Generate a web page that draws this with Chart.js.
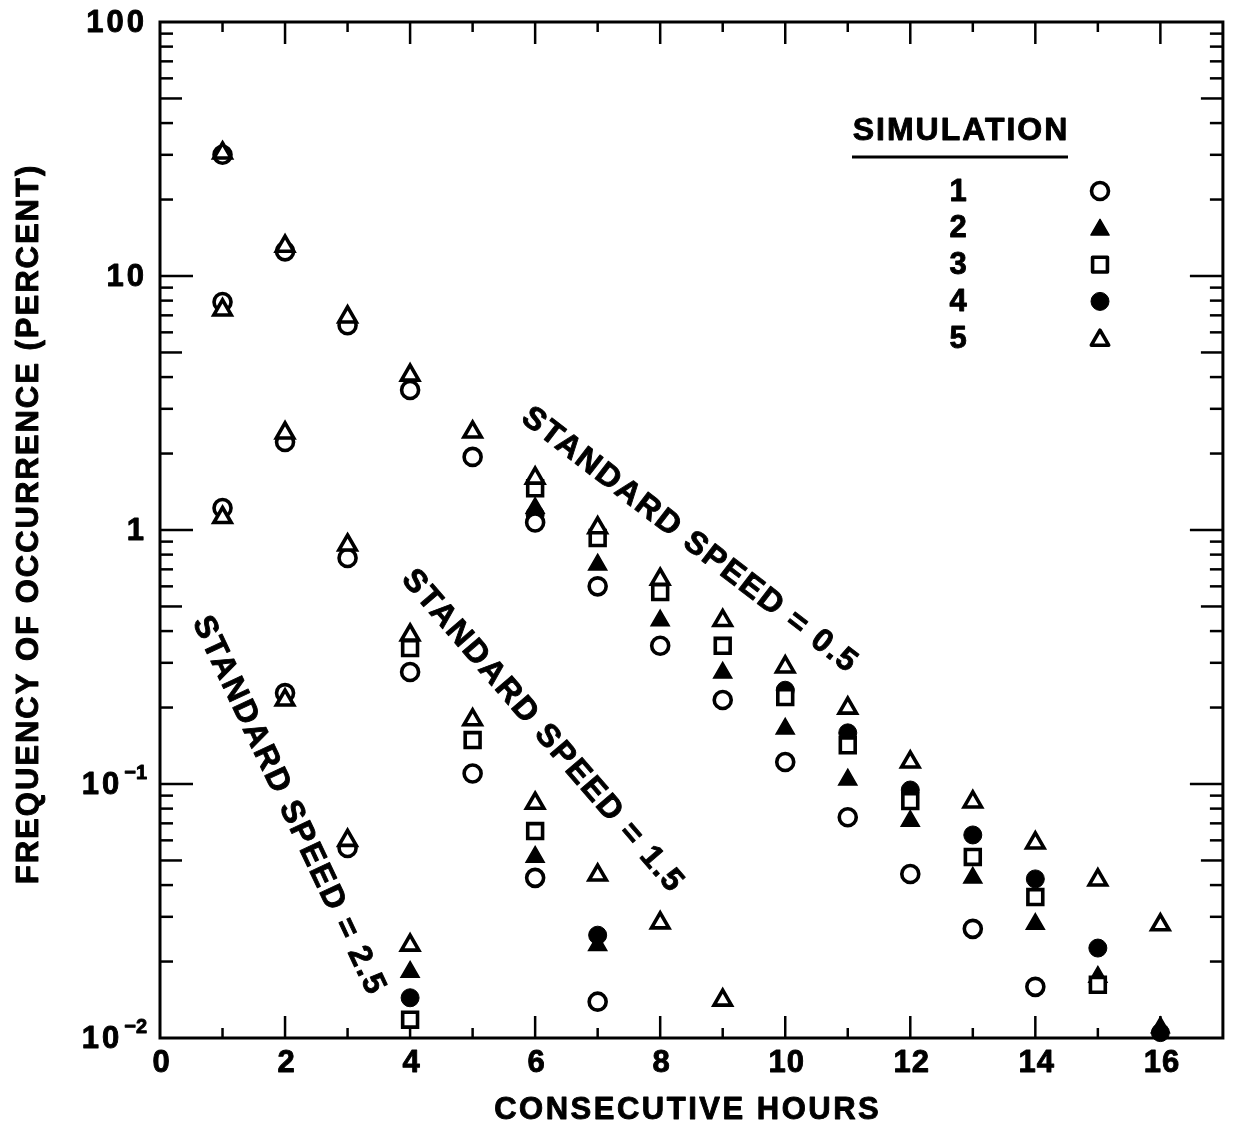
<!DOCTYPE html>
<html><head><meta charset="utf-8">
<script src="https://cdn.jsdelivr.net/npm/chart.js@4.4.1/dist/chart.umd.min.js"></script>
<style>html,body{margin:0;padding:0;background:#fff;overflow:hidden}canvas{display:block}</style>
</head><body>
<canvas id="c" width="1237" height="1132"></canvas>
<script>
// ---------- DATA ----------
const hours = [1,2,3,4,5,6,7,8,9,10,11,12,13,14,15,16];
const xTickValues = [0,2,4,6,8,10,12,14,16];
const xTickLabels = ['0','2','4','6','8','10','12','14','16'];
const yTickValues = [100,10,1,0.1,0.01];
const yTickLabels = ['100','10','1','10⁻¹','10⁻²'];
const simulationNames = ['1','2','3','4','5'];
const speedLabels = ['STANDARD SPEED = 0.5','STANDARD SPEED = 1.5','STANDARD SPEED = 2.5'];
const xTitle = 'CONSECUTIVE HOURS';
const yTitle = 'FREQUENCY OF OCCURRENCE (PERCENT)';
const legendTitle = 'SIMULATION';

// standard speed = 0.5 (frequency, percent) by hour 1..16
const speed05_sim1 = [30, 12.5, 6.4, 3.56, 1.94, 1.07, 0.60, 0.35, 0.214, 0.122, 0.074, 0.0442, 0.0269, 0.0159, null, null];
const speed05_sim2 = [null, null, null, null, null, 1.22, 0.73, 0.44, 0.274, 0.165, 0.104, 0.0715, 0.0427, 0.0281, 0.0174, 0.011];
const speed05_sim3 = [null, null, null, null, null, 1.46, 0.93, 0.57, 0.35, 0.220, 0.142, 0.0857, 0.0516, 0.0359, 0.0162, null];
const speed05_sim4 = [null, null, null, null, null, 1.15, null, null, null, 0.234, 0.159, 0.0947, 0.063, 0.0423, 0.0226, 0.0105];
const speed05_sim5 = [30.5, 13.1, 6.9, 4.07, 2.43, 1.60, 1.02, 0.64, 0.44, 0.289, 0.199, 0.122, 0.085, 0.0586, 0.0419, 0.0279];

// standard speed = 1.5
const speed15_sim1 = [7.9, 2.22, 0.776, 0.276, 0.110, 0.0427, 0.0139, null, null, null, null, null, null, null, null, null];
const speed15_sim2 = [null, null, null, null, null, 0.0516, 0.0232, null, null, null, null, null, null, null, null, null];
const speed15_sim3 = [null, null, null, 0.343, 0.149, 0.0653, null, null, null, null, null, null, null, null, null, null];
const speed15_sim4 = [null, null, null, null, null, null, 0.0254, null, null, null, null, null, null, null, null, null];
const speed15_sim5 = [7.35, 2.41, 0.873, 0.386, 0.179, 0.084, 0.0438, 0.0284, 0.0141, null, null, null, null, null, null, null];

// standard speed = 2.5
const speed25_sim1 = [1.22, 0.228, 0.056, null, null, null, null, null, null, null, null, null, null, null, null, null];
const speed25_sim2 = [null, null, null, 0.0182, null, null, null, null, null, null, null, null, null, null, null, null];
const speed25_sim3 = [null, null, null, 0.0118, null, null, null, null, null, null, null, null, null, null, null, null];
const speed25_sim4 = [null, null, null, 0.0144, null, null, null, null, null, null, null, null, null, null, null, null];
const speed25_sim5 = [1.12, 0.214, 0.060, 0.0232, null, null, null, null, null, null, null, null, null, null, null, null];

// ---------- STYLE ----------
const FONT = '"Liberation Sans", Arial, Helvetica, sans-serif';
const simStyles = [
  {pointStyle:'circle',   radius:8.5,  bg:'#fff', border:'#000', bw:3.6, order:3},
  {pointStyle:'triangle', radius:10.5, bg:'#000', border:'#000', bw:1.5, order:4},
  {pointStyle:'rect',     radius:10.5, bg:'#fff', border:'#000', bw:3.6, order:2},
  {pointStyle:'circle',   radius:9,    bg:'#000', border:'#000', bw:1,   order:5},
  {pointStyle:'triangle', radius:10,   bg:'#fff', border:'#000', bw:3.6, order:1}
];
const groups = [
  {speed:speedLabels[0], sims:[speed05_sim1,speed05_sim2,speed05_sim3,speed05_sim4,speed05_sim5]},
  {speed:speedLabels[1], sims:[speed15_sim1,speed15_sim2,speed15_sim3,speed15_sim4,speed15_sim5]},
  {speed:speedLabels[2], sims:[speed25_sim1,speed25_sim2,speed25_sim3,speed25_sim4,speed25_sim5]}
];
// annotation anchors in data units
const annotationPlacement = [
  {x:8.46, y:0.914, angle:37.6},
  {x:6.11, y:0.162, angle:49.3},
  {x:2.05, y:0.0826, angle:64.8}
];

const datasets = [];
groups.forEach(g => {
  g.sims.forEach((vals, si) => {
    const st = simStyles[si];
    const pts = [];
    vals.forEach((v, i) => { if (v !== null) pts.push({x: hours[i], y: v}); });
    datasets.push({
      label: 'Simulation ' + simulationNames[si] + ' (' + g.speed + ')',
      data: pts,
      showLine: false,
      pointStyle: st.pointStyle,
      pointRadius: st.radius,
      pointBackgroundColor: st.bg,
      pointBorderColor: st.border,
      pointBorderWidth: st.bw,
      order: st.order,
      clip: false
    });
  });
});

function line(ctx, x1, y1, x2, y2) { ctx.beginPath(); ctx.moveTo(x1, y1); ctx.lineTo(x2, y2); ctx.stroke(); }
// heavy text: fill plus a thin stroke to mimic the heavy bold of the original
function heavyText(ctx, txt, x, y, spacing) {
  if ('letterSpacing' in ctx) { ctx.letterSpacing = spacing + 'px'; }
  const xx = x + ((ctx.textAlign === 'center') ? spacing / 2 : 0);
  ctx.fillText(txt, xx, y);
  ctx.lineWidth = 0.9;
  ctx.strokeStyle = '#000';
  ctx.lineJoin = 'round';
  ctx.strokeText(txt, xx, y);
  if ('letterSpacing' in ctx) { ctx.letterSpacing = '0px'; }
}

const paper = {
  id: 'paper',
  beforeDatasetsDraw(chart) {
    const {ctx, chartArea: a, scales: {x, y}} = chart;
    ctx.save();
    ctx.strokeStyle = '#000';
    ctx.lineWidth = 3;
    ctx.strokeRect(a.left, a.top, a.right - a.left, a.bottom - a.top);
    ctx.lineWidth = 2.5;
    for (let d = -2; d <= 1; d++) {
      for (let m = 1; m <= 9; m++) {
        if (m === 1 && d === -2) continue;
        const py = y.getPixelForValue(m * Math.pow(10, d));
        const len = m === 1 ? 33 : (m === 5 ? 22 : 13);
        line(ctx, a.left, py, a.left + len, py);
        line(ctx, a.right, py, a.right - len, py);
      }
    }
    for (let h = 1; h < 17; h++) {
      const px = x.getPixelForValue(h);
      const len = h % 2 === 0 ? 22 : 10;
      line(ctx, px, a.bottom, px, a.bottom - len);
      line(ctx, px, a.top, px, a.top + len);
    }
    ctx.restore();
  },
  afterDraw(chart) {
    const {ctx, chartArea: a, scales: {x, y}} = chart;
    ctx.save();
    ctx.fillStyle = '#000';
    // x tick labels
    ctx.font = 'bold 31px ' + FONT;
    ctx.textAlign = 'center';
    ctx.textBaseline = 'middle';
    xTickValues.forEach((v, i) => {
      heavyText(ctx, xTickLabels[i], x.getPixelForValue(v) + 1, a.bottom + 25, 1);
    });
    // y tick labels (with superscripts)
    const supMap = {'⁻':'−','¹':'1','²':'2','³':'3'};
    yTickValues.forEach((v, i) => {
      const lab = yTickLabels[i];
      const py = y.getPixelForValue(v);
      const xr = a.left - 13;
      let base = '', sup = '';
      for (const ch of lab) { if (supMap[ch]) sup += supMap[ch]; else base += ch; }
      ctx.textBaseline = 'middle';
      ctx.textAlign = 'right';
      if (sup) {
        ctx.font = 'bold 20px ' + FONT;
        const sw = ctx.measureText(sup).width;
        heavyText(ctx, sup, xr, py - 11, 0);
        ctx.font = 'bold 31px ' + FONT;
        heavyText(ctx, base, xr - sw - 2, py + 1, 3);
      } else {
        ctx.font = 'bold 31px ' + FONT;
        heavyText(ctx, base, xr, py + 1, 3);
      }
    });
    // axis titles
    ctx.font = 'bold 31px ' + FONT;
    ctx.textAlign = 'center';
    ctx.textBaseline = 'middle';
    heavyText(ctx, xTitle, (a.left + a.right) / 2 - 5, 1110, 2.5);
    ctx.save();
    ctx.translate(29, 525);
    ctx.rotate(-Math.PI / 2);
    heavyText(ctx, yTitle, 0, 0, 2);
    ctx.restore();
    // rotated speed annotations
    ctx.font = 'bold 32px ' + FONT;
    groups.forEach((g, i) => {
      const p = annotationPlacement[i];
      ctx.save();
      ctx.translate(x.getPixelForValue(p.x), y.getPixelForValue(p.y));
      ctx.rotate(p.angle * Math.PI / 180);
      heavyText(ctx, g.speed, 0, 0, 2);
      ctx.restore();
    });
    // legend
    const lx = 960, ly = 131;
    ctx.font = 'bold 32px ' + FONT;
    heavyText(ctx, legendTitle, lx, ly, 2);
    ctx.lineWidth = 3;
    line(ctx, 852, 157, 1068, 157);
    ctx.font = 'bold 31px ' + FONT;
    simulationNames.forEach((n, i) => {
      const yy = 191 + i * 36.8;
      ctx.fillStyle = '#000';
      heavyText(ctx, n, 958, yy + 1, 0);
      const st = simStyles[i];
      ctx.fillStyle = st.bg;
      ctx.strokeStyle = st.border;
      ctx.lineWidth = st.bw;
      Chart.helpers.drawPoint(ctx, {pointStyle: st.pointStyle, radius: st.radius, rotation: 0, borderWidth: st.bw}, 1100, yy + (st.pointStyle === 'triangle' ? 2 : 0));
      ctx.fillStyle = '#000';
    });
    ctx.restore();
  }
};

new Chart(document.getElementById('c'), {
  type: 'scatter',
  data: {datasets},
  options: {
    responsive: false,
    animation: false,
    devicePixelRatio: 1,
    layout: {padding: {left: 0, top: 22, right: 10, bottom: 0}},
    plugins: {legend: {display: false}, tooltip: {enabled: false}},
    scales: {
      x: {
        type: 'linear', min: 0, max: 17,
        border: {display: false},
        grid: {display: false, drawTicks: false},
        afterBuildTicks: s => { s.ticks = xTickValues.map(v => ({value: v})); },
        afterFit: s => { s.height = 94; },
        ticks: {display: false}
      },
      y: {
        type: 'logarithmic', min: 0.01, max: 100,
        border: {display: false},
        grid: {display: false, drawTicks: false},
        afterBuildTicks: s => { s.ticks = yTickValues.map(v => ({value: v})); },
        afterFit: s => { s.width = 160; },
        ticks: {display: false}
      }
    }
  },
  plugins: [paper]
});
</script>
</body></html>
